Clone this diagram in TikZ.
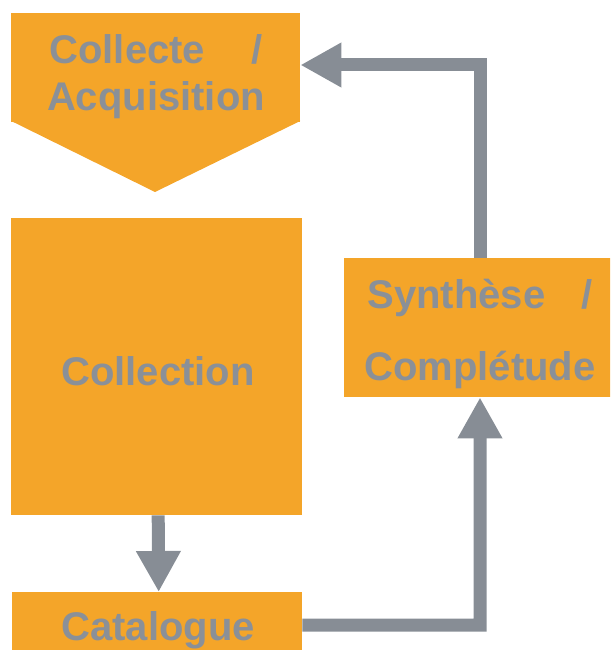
\documentclass[tikz,border=0pt]{standalone}
\usepackage{fontspec}
\setmainfont{Liberation Sans}
\usetikzlibrary{arrows.meta}
\definecolor{orng}{HTML}{F4A529}
\definecolor{gry}{HTML}{878D95}
\definecolor{gryt}{HTML}{8A9098}
\begin{document}
\begin{tikzpicture}[x=1pt,y=-1pt,
  box/.style={fill=orng, draw=none, inner sep=0pt, anchor=north west},
  arr/.style={draw=gry, line width=13pt, line join=miter, -{Triangle[width=42pt,length=41pt]}},
  txt/.style={text=gryt, font=\bfseries\fontsize{40}{47}\selectfont, inner sep=0pt, align=center}]
\useasboundingbox (0,0) rectangle (610,650);
\clip (0,0) rectangle (610,650);
% boxes
\node[box, minimum width=289pt, minimum height=109pt] (acq) at (11,13) {};
\fill[orng] ([yshift=1.5pt]acq.south west) -- (155,192) -- ([yshift=1.5pt]acq.south east) -- cycle;
\node[box, minimum width=291pt, minimum height=297pt] (coll) at (11,218) {};
\node[box, minimum width=268pt, minimum height=139pt] (syn) at (344,258) {};
\node[box, minimum width=290pt, minimum height=66pt] (cat) at (12,592) {};
% connectors
\coordinate (c1) at (480,625);
\coordinate (c2) at (480,65);
\draw[arr] ([xshift=1.5pt]coll.south) -- ([xshift=1.5pt]cat.north);
\draw[arr] (cat.east) -- (c1) -- (syn.south -| c1);
\draw[arr] (syn.north -| c2) -- (c2) -- (acq.east |- c2);
% texts
\node[txt, anchor=north] (tacq) at (156,34) {\makebox[213pt]{Collecte\hfill/}\\Acquisition};
\node[txt, font=\bfseries\fontsize{40}{72}\selectfont, anchor=north] (tsyn) at (480,279) {\makebox[225pt]{Synthèse\hfill/}\\Complétude};
\node[txt, anchor=base] (tcoll) at (158,385) {Collection};
\node[txt, anchor=base] (tcat) at (158,640) {Catalogue};
\end{tikzpicture}
\end{document}
